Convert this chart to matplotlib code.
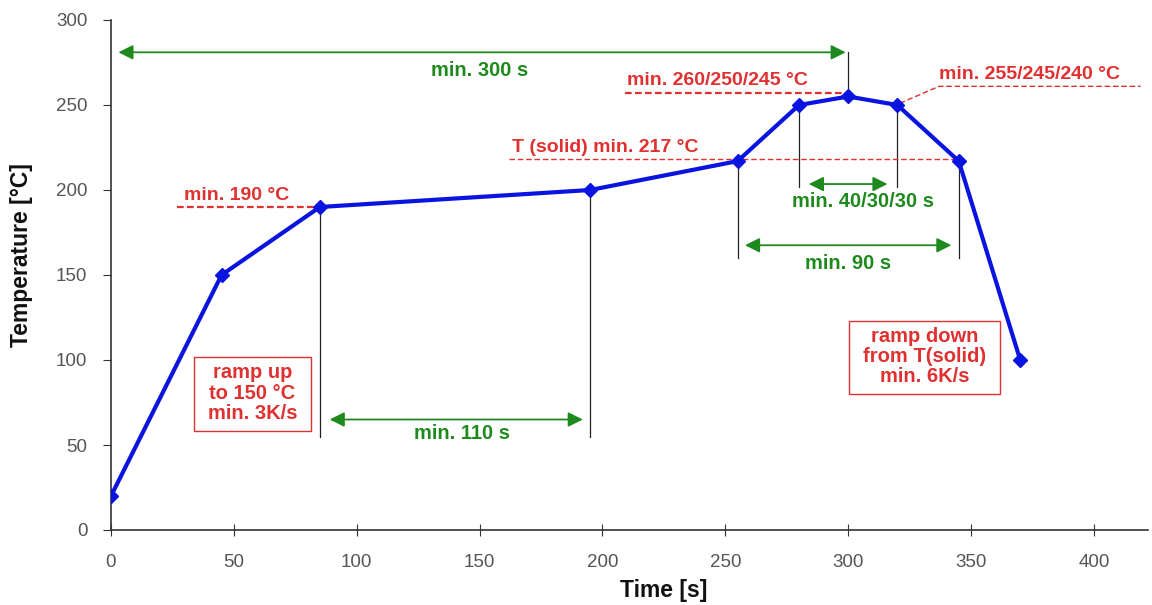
import matplotlib
matplotlib.use("Agg")
import matplotlib.pyplot as plt
from matplotlib.patches import Rectangle

time_s = [0, 45, 85, 195, 255, 280, 300, 320, 345, 370]
temp_c = [20, 150, 190, 200, 217, 250, 255, 250, 217, 100]
x_ticks = [0, 50, 100, 150, 200, 250, 300, 350, 400]
y_ticks = [0, 50, 100, 150, 200, 250, 300]

plt.rcParams['font.family'] = ['Liberation Sans', 'DejaVu Sans']

fig = plt.figure(figsize=(11.52, 6.05), dpi=100)
ax = fig.add_axes([111/1152, 1-530/605, (1148-111)/1152, 510/605])
ax.set_xlim(0, 422)
ax.set_ylim(0, 300)
for s in ['top', 'right']:
    ax.spines[s].set_visible(False)
for s in ['left', 'bottom']:
    ax.spines[s].set_color('#333333')
    ax.spines[s].set_linewidth(1.2)
ax.set_xticks(x_ticks)
ax.set_yticks(y_ticks)
ax.tick_params(axis='x', direction='inout', length=8, colors='#333333', labelcolor='#555555', labelsize=13.5, pad=13)
ax.tick_params(axis='y', direction='out', length=6, colors='#333333', labelcolor='#555555', labelsize=13.5, pad=11)
ax.set_xlabel('Time [s]', fontsize=16.5, fontweight='bold', color='#111111')
ax.set_ylabel('Temperature [°C]', fontsize=16.5, fontweight='bold', color='#111111')
ax.xaxis.set_label_coords((664-111)/1037, (530-579)/510)
ax.yaxis.set_label_coords((33-111)/1037, (530-255)/510)

green = '#1e8a1e'
red = '#e03030'
black = '#222222'

# vertical reference lines
vlines = [(85, 55, 190), (195, 55, 200), (255, 160, 217), (345, 160, 217),
          (280, 202, 250), (320, 202, 250), (300, 255, 281)]
for x, y0, y1 in vlines:
    ax.plot([x, x], [y0, y1], color=black, lw=0.9, zorder=2)

# red dashed lines
ax.plot([27, 85], [190, 190], color=red, lw=1.6, ls=(0, (3, 1.5)), zorder=2)
ax.plot([162, 345], [218, 218], color=red, lw=1.0, ls=(0, (4, 2)), zorder=2)
ax.plot([209, 300], [257, 257], color=red, lw=1.6, ls=(0, (3, 1.5)), zorder=2)
ax.plot([321, 337, 419], [251, 261, 261], color=red, lw=1.0, ls=(0, (4, 2)), zorder=2)

# profile line
ax.plot(time_s, temp_c, color='#0a14e0', lw=3, marker='D', markersize=7, zorder=5)

# green arrows
def arrow(x0, x1, y):
    ax.annotate('', xy=(x1, y), xytext=(x0, y),
                arrowprops=dict(arrowstyle='<|-|>', color=green, lw=1.3,
                                mutation_scale=22, shrinkA=0, shrinkB=0), zorder=4)

arrow(3, 299, 281)
arrow(89, 192, 65)
arrow(258, 342, 167.5)
arrow(284, 316, 203.5)

tk = dict(color=green, fontsize=14.5, fontweight='bold', ha='center', va='center')
ax.text(150, 270, 'min. 300 s', **tk)
ax.text(143, 57, 'min. 110 s', **tk)
ax.text(300, 157, 'min. 90 s', **tk)
ax.text(306, 193, 'min. 40/30/30 s', **tk)

rk = dict(color=red, fontsize=14, fontweight='bold', va='bottom')
ax.text(51, 191.5, 'min. 190 °C', ha='center', **rk)
ax.text(163, 220, 'T (solid) min. 217 °C', ha='left', **rk)
ax.text(210, 259.5, 'min. 260/250/245 °C', ha='left', **rk)
ax.text(337, 263, 'min. 255/245/240 °C', ha='left', **rk)

bk = dict(color=red, fontsize=14.5, fontweight='bold', ha='center', va='center',
          linespacing=1.08, zorder=6)
boxed = [ax.text(57.5, 80.5, 'ramp up\nto 150 °C\nmin. 3K/s', **bk),
         ax.text(331, 102, 'ramp down\nfrom T(solid)\nmin. 6K/s', **bk)]

fig.canvas.draw()
renderer = fig.canvas.get_renderer()
inv = ax.transData.inverted()
for t in boxed:
    bb = t.get_window_extent(renderer)
    (x0, y0) = inv.transform((bb.x0 - 14, bb.y0 - 8))
    (x1, y1) = inv.transform((bb.x1 + 14, bb.y1 + 6))
    ax.add_patch(Rectangle((x0, y0), x1 - x0, y1 - y0, fc='white', ec=red,
                           lw=1.0, zorder=5.5))

fig.savefig('out.png', dpi=100)
